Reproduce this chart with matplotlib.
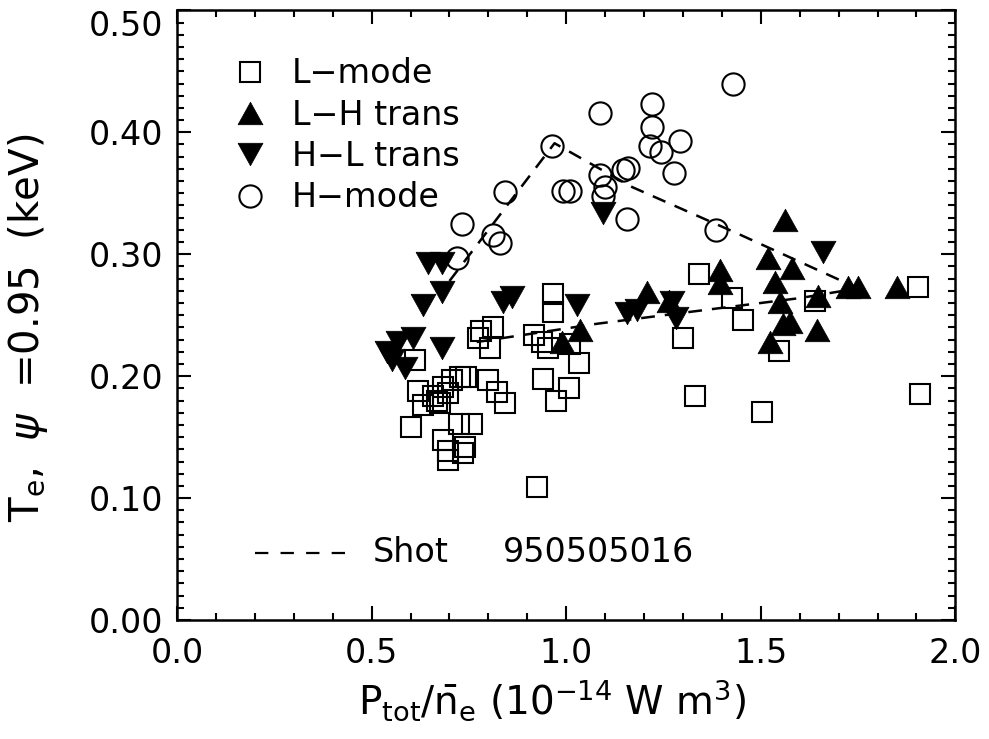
import numpy as np
import matplotlib
matplotlib.use("Agg")
import matplotlib.pyplot as plt

plt.rcParams['font.family'] = ['DejaVu Sans']
plt.rcParams['mathtext.fontset'] = 'dejavusans'

# L-mode (open squares)
lmode_x = [0.967, 0.967, 0.781, 0.812, 0.774, 0.805, 0.918, 0.938, 0.954, 1.010,
           1.033, 0.612, 0.620, 0.632, 0.600, 0.684, 0.706, 0.727, 0.743, 0.697,
           0.668, 0.676, 0.658, 0.800, 0.823, 0.843, 0.941, 1.008, 0.974, 0.725,
           0.758, 0.684, 0.697, 0.740, 0.697, 0.735, 0.925, 1.342, 1.427, 1.455,
           1.300, 1.548, 1.640, 1.905, 1.332, 1.504, 1.910]
lmode_y = [0.267, 0.253, 0.237, 0.240, 0.231, 0.223, 0.234, 0.228, 0.223, 0.226,
           0.211, 0.213, 0.188, 0.176, 0.158, 0.191, 0.197, 0.199, 0.199, 0.186,
           0.180, 0.178, 0.184, 0.197, 0.187, 0.178, 0.198, 0.190, 0.180, 0.161,
           0.161, 0.148, 0.139, 0.142, 0.131, 0.137, 0.109, 0.284, 0.264, 0.246,
           0.231, 0.221, 0.262, 0.273, 0.184, 0.171, 0.185]

# L-H transitions (filled up triangles)
lh_x = [1.208, 1.036, 0.990, 1.396, 1.396, 1.519, 1.581, 1.537, 1.550, 1.558,
        1.576, 1.524, 1.648, 1.645, 1.750, 1.725, 1.850, 1.563, 1.265]
lh_y = [0.269, 0.238, 0.228, 0.287, 0.276, 0.297, 0.289, 0.277, 0.261, 0.243,
        0.244, 0.228, 0.266, 0.238, 0.273, 0.273, 0.273, 0.328, 0.262]

# H-L transitions (filled down triangles)
hl_x = [0.645, 0.681, 0.681, 0.632, 0.838, 0.861, 1.028, 1.157, 1.183, 0.568,
        0.607, 0.681, 0.540, 0.553, 0.586, 1.095, 1.660, 1.272, 1.283]
hl_y = [0.293, 0.293, 0.269, 0.258, 0.261, 0.265, 0.258, 0.252, 0.254, 0.228,
        0.231, 0.223, 0.220, 0.213, 0.207, 0.334, 0.302, 0.261, 0.248]

# H-mode (open circles)
hmode_x = [1.429, 1.221, 1.221, 1.087, 1.293, 1.216, 1.244, 0.964, 1.278, 1.159,
           1.147, 1.087, 1.100, 1.095, 0.992, 1.010, 1.157, 1.386, 0.843, 0.733,
           0.812, 0.830, 0.720]
hmode_y = [0.440, 0.423, 0.404, 0.416, 0.393, 0.389, 0.384, 0.389, 0.367, 0.371,
           0.369, 0.365, 0.355, 0.348, 0.352, 0.352, 0.329, 0.320, 0.351, 0.325,
           0.316, 0.309, 0.297]

# dashed trend lines for shot 950505016
hfit_x = [0.70, 0.97, 1.17, 1.44, 1.75]
hfit_y = [0.278, 0.391, 0.355, 0.317, 0.272]
lfit_x = [0.77, 1.08, 1.35, 1.60, 1.75]
lfit_y = [0.228, 0.243, 0.254, 0.264, 0.272]

# flatter triangles than matplotlib's default ^ / v
tri_up = [(-1, -0.9), (1, -0.9), (0, 0.9), (-1, -0.9)]
tri_dn = [(-1, 0.9), (1, 0.9), (0, -0.9), (-1, 0.9)]

fig = plt.figure(figsize=(9.89, 7.39), dpi=100)
ax = fig.add_axes([0.179, 0.161, 0.787, 0.825])

mew = 1.5
ax.plot(lmode_x, lmode_y, 's', ms=15, mfc='none', mec='k', mew=mew, label='L\u2212mode')
ax.plot(lh_x, lh_y, marker=tri_up, ls='none', ms=18, mfc='k', mec='k', mew=0.5, label='L\u2212H trans')
ax.plot(hl_x, hl_y, marker=tri_dn, ls='none', ms=18, mfc='k', mec='k', mew=0.5, label='H\u2212L trans')
ax.plot(hmode_x, hmode_y, 'o', ms=16, mfc='none', mec='k', mew=mew, label='H\u2212mode')

ax.plot(hfit_x, hfit_y, 'k', lw=1.8, dashes=(5.5, 4))
ax.plot(lfit_x, lfit_y, 'k', lw=1.8, dashes=(5.5, 4))

ax.set_xlim(0, 2.0)
ax.set_ylim(0, 0.5)
ax.set_xticks(np.arange(0, 2.01, 0.5))
ax.set_xticks(np.arange(0, 2.01, 0.1), minor=True)
ax.set_yticks(np.arange(0, 0.51, 0.1))
ax.set_yticks(np.arange(0, 0.501, 0.01), minor=True)
ax.set_xticklabels(['0.0', '0.5', '1.0', '1.5', '2.0'])
ax.set_yticklabels(['0.00', '0.10', '0.20', '0.30', '0.40', '0.50'])
ax.tick_params(which='both', direction='in', top=True, right=True, width=1.5)
ax.tick_params(which='major', length=10, labelsize=24)
ax.tick_params(axis='x', which='major', pad=12)
ax.tick_params(axis='y', which='major', pad=10)
ax.tick_params(which='minor', length=5)
ax.get_yticklabels()[-1].set_va('top')
for s in ax.spines.values():
    s.set_linewidth(1.8)

ax.set_xlabel(r'P$_{\rm tot}$/$\bar{\rm n}_{\rm e}$ (10$^{-14}$ W m$^{3}$)', fontsize=28)
ax.set_ylabel(r'T$_{\rm e}$,  $\psi$  =0.95  (keV)', fontsize=29)
ax.xaxis.set_label_coords(0.482, -0.095)
ax.yaxis.set_label_coords(-0.163, 0.479)

ax.legend(loc='upper left', frameon=False, fontsize=24, handlelength=1.0,
          handletextpad=0.75, labelspacing=0.25, borderaxespad=0.0,
          bbox_to_anchor=(0.055, 0.945))

# shot annotation
ax.plot([0.10, 0.222], [0.11, 0.11], 'k', lw=1.6, dashes=(6, 5.5), transform=ax.transAxes)
ax.text(0.252, 0.11, 'Shot', transform=ax.transAxes, fontsize=24, va='center')
ax.text(0.418, 0.11, '950505016', transform=ax.transAxes, fontsize=24, va='center')

fig.savefig('out.png', dpi=100)
